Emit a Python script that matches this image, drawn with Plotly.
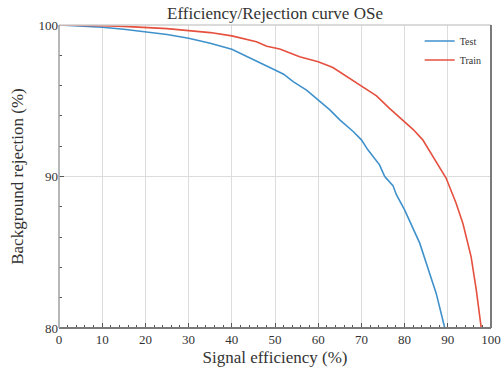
import plotly.graph_objects as go

test_x = [0, 5, 10, 15, 20, 25, 30, 35, 40, 42, 45.4, 50, 52, 54.2, 57.3, 60, 62.7, 65, 68.1, 70,
          71.5, 74.2, 75.4, 77.3, 78.1, 80, 82.7, 83.5, 85.8, 87.3, 89.3]
test_y = [100, 99.95, 99.85, 99.72, 99.56, 99.37, 99.12, 98.8, 98.4, 98.13, 97.7, 97.03, 96.75, 96.26,
          95.7, 95.06, 94.4, 93.74, 92.97, 92.42, 91.76, 90.77, 90.0, 89.4, 88.8, 87.8, 86.05, 85.6,
          83.6, 82.3, 80.0]

train_x = [0, 5, 10, 15, 20, 25, 30, 35, 40, 42, 45.7, 48.1, 51.1, 55.7, 60, 63.4, 66.5, 70, 73.5,
           76.5, 80, 82, 84.2, 85.8, 88.1, 89.6, 91.9, 93.5, 95.4, 96.6, 97.7, 97.8]
train_y = [100, 99.99, 99.96, 99.91, 99.85, 99.76, 99.63, 99.5, 99.28, 99.15, 98.9, 98.6, 98.42,
           97.91, 97.58, 97.19, 96.6, 95.98, 95.32, 94.5, 93.63, 93.1, 92.42, 91.65, 90.55, 89.9,
           88.25, 86.9, 84.7, 82.5, 80.1, 80.0]

FONT = "Liberation Serif"

fig = go.Figure()
fig.add_trace(go.Scatter(x=test_x, y=test_y, mode="lines", name="Test",
                         line=dict(color="#3F91CC", width=1.6)))
fig.add_trace(go.Scatter(x=train_x, y=train_y, mode="lines", name="Train",
                         line=dict(color="#E5503F", width=1.6)))

axis_common = dict(
    showgrid=True, gridcolor="#dcdcdc", gridwidth=1,
    ticks="inside", ticklen=5, tickcolor="#555", tickwidth=1,
    showline=False, zeroline=False, automargin=False,
    tickfont=dict(family=FONT, size=13, color="#333"),
)

fig.update_layout(
    width=501, height=370,
    margin=dict(l=59, r=10, t=25, b=42),
    paper_bgcolor="white", plot_bgcolor="white",
    title=dict(text="Efficiency/Rejection curve OSe", x=0.5, xanchor="center",
               xref="paper", y=0.965, yanchor="middle",
               font=dict(family=FONT, size=17, color="#333")),
    xaxis=dict(range=[0, 100], dtick=10, tick0=0, ticklabelstandoff=2,
               title=dict(text="Signal efficiency (%)", font=dict(family=FONT, size=17, color="#333"),
                          standoff=5),
               minor=dict(dtick=2, ticks="inside", ticklen=3, tickcolor="#555", showgrid=False),
               **axis_common),
    yaxis=dict(range=[80, 100], dtick=10, tick0=80,
               title=dict(text="Background rejection (%)", font=dict(family=FONT, size=17, color="#333"),
                          standoff=10),
               minor=dict(dtick=2, ticks="inside", ticklen=3, tickcolor="#555", showgrid=False),
               **axis_common),
    legend=dict(x=0.99, y=0.995, xanchor="right", yanchor="top",
                bgcolor="rgba(255,255,255,0)", borderwidth=0,
                font=dict(family=FONT, size=10, color="#333"),
                itemwidth=30, tracegroupgap=0),
    showlegend=True,
    shapes=[
        dict(type="line", xref="paper", yref="paper", x0=0, x1=1, y0=1, y1=1,
             line=dict(color="#cfcfcf", width=1.5)),
        dict(type="line", xref="paper", yref="paper", x0=1, x1=1, y0=0, y1=1,
             line=dict(color="#7a7a7a", width=2)),
        dict(type="line", xref="paper", yref="paper", x0=0, x1=1, y0=0, y1=0,
             line=dict(color="#7a7a7a", width=2)),
        dict(type="line", xref="paper", yref="paper", x0=0, x1=0, y0=0, y1=1,
             line=dict(color="#a0a0a0", width=1.5)),
    ],
)

fig.write_html("out.html")
